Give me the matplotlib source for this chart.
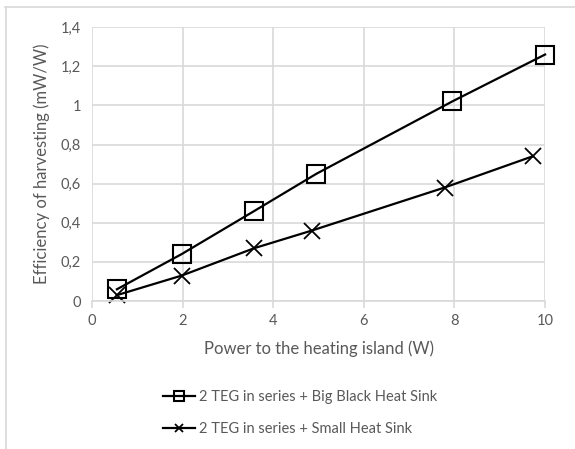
import matplotlib
matplotlib.use("Agg")
import matplotlib.pyplot as plt
from matplotlib.lines import Line2D
from matplotlib.ticker import FuncFormatter, MultipleLocator

plt.rcParams["font.family"] = ["Lato", "DejaVu Sans"]

# data
power_big = [0.55, 1.98, 3.58, 4.95, 7.95, 10.0]
eff_big = [0.06, 0.24, 0.46, 0.65, 1.02, 1.26]
power_small = [0.55, 1.98, 3.58, 4.85, 7.78, 9.73]
eff_small = [0.03, 0.13, 0.27, 0.36, 0.58, 0.74]
label_big = "2 TEG in series + Big Black Heat Sink"
label_small = "2 TEG in series + Small Heat Sink"

TEXT = "#595959"
GRID = "#d9d9d9"

fig = plt.figure(figsize=(5.75, 4.49), dpi=100)
ax = fig.add_axes([0.160, 0.3296, 0.788, 0.610])

ax.plot(power_big, eff_big, color="black", lw=1.6, marker="s", ms=13,
        mfc="none", mec="black", mew=1.5, label=label_big, clip_on=False)
ax.plot(power_small, eff_small, color="black", lw=1.6, marker="x", ms=11,
        mec="black", mew=1.3, label=label_small, clip_on=False)

ax.set_xlim(0, 10)
ax.set_ylim(0, 1.4)
ax.xaxis.set_major_locator(MultipleLocator(2))
ax.yaxis.set_major_locator(MultipleLocator(0.2))
fmt = FuncFormatter(lambda v, p: f"{v:g}".replace(".", ","))
ax.xaxis.set_major_formatter(fmt)
ax.yaxis.set_major_formatter(fmt)

ax.grid(True, color=GRID, lw=1.2)
ax.set_axisbelow(True)
for s in ["top", "right", "left"]:
    ax.spines[s].set_visible(False)
ax.spines["bottom"].set_color(GRID)
ax.spines["bottom"].set_linewidth(1.2)
ax.tick_params(axis="x", colors=GRID, length=5, width=1.2, labelcolor=TEXT,
               labelsize=10.5, pad=4)
ax.tick_params(axis="y", length=0, labelcolor=TEXT, labelsize=10.5, pad=8)

ax.set_xlabel("Power to the heating island (W)", color=TEXT, fontsize=12,
              labelpad=9)
ax.set_ylabel("Efficiency of harvesting (mW/W)", color=TEXT, fontsize=12,
              labelpad=8)

leg = fig.legend(loc="center left", bbox_to_anchor=(156 / 575, 1 - 413 / 449),
                 frameon=False, fontsize=10.5, handlelength=2.2,
                 handletextpad=0.25, labelspacing=1.2, markerscale=0.55,
                 borderpad=0)
for t in leg.get_texts():
    t.set_color(TEXT)

# light chart-area frame (top and left edges only visible)
fig.add_artist(Line2D([5 / 575, 1], [1 - 6.5 / 449] * 2, color=GRID, lw=1.2))
fig.add_artist(Line2D([6 / 575] * 2, [0, 1 - 6.5 / 449], color=GRID, lw=1.2))

fig.savefig("out.png", dpi=100)
